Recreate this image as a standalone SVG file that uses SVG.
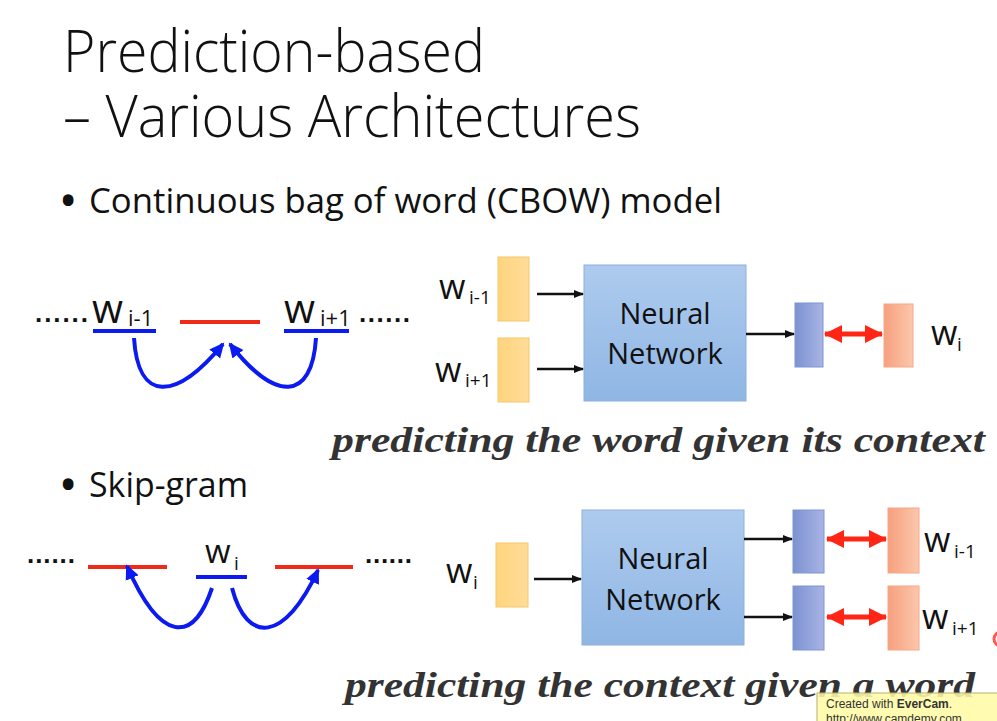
<svg xmlns="http://www.w3.org/2000/svg" width="997" height="721" viewBox="0 0 997 721">
<style>
.sans{font-family:"Open Sans","Noto Sans","Liberation Sans",sans-serif;fill:#111}
.title{font-size:58px;font-weight:300}
.bullet{font-size:34px}
.bdot{font-size:38px;font-weight:bold}
.w{font-size:34px}
.sub{font-size:19px}
.nn{font-size:29px;text-anchor:middle}
.ital{font-family:"Liberation Serif","DejaVu Serif",serif;font-weight:bold;font-style:italic;font-size:36px;fill:#333}
.dots{font-family:"Liberation Sans",sans-serif;font-weight:bold;font-size:26px;fill:#111}
.yel{fill:url(#gY);stroke:#F6C866;stroke-width:1}
.nnbox{fill:url(#gN);stroke:#8DB0DC;stroke-width:1}
.blu{fill:url(#gB);stroke:#7F95D2;stroke-width:1}
.org{fill:url(#gO);stroke:#F5A888;stroke-width:1}
.blk{stroke:#111;stroke-width:2.5;fill:none;marker-end:url(#mK)}
.red2{stroke:#FF2616;stroke-width:5;fill:none;marker-start:url(#mRs);marker-end:url(#mR)}
.curve{stroke:#0A1AF0;stroke-width:4;fill:none;marker-end:url(#mB)}
.bline{stroke:#0A1AF0;stroke-width:4}
.rline{stroke:#F02A18;stroke-width:4}
</style>
<defs>
<linearGradient id="gY" x1="0" y1="0" x2="1" y2="0"><stop offset="0" stop-color="#FFD47E"/><stop offset="1" stop-color="#FFDC98"/></linearGradient>
<linearGradient id="gN" x1="0" y1="0" x2="0" y2="1"><stop offset="0" stop-color="#AECBEE"/><stop offset="1" stop-color="#8FB6E4"/></linearGradient>
<linearGradient id="gB" x1="0" y1="0" x2="1" y2="0"><stop offset="0" stop-color="#7C92D2"/><stop offset="1" stop-color="#A8B4E4"/></linearGradient>
<linearGradient id="gO" x1="0" y1="0" x2="1" y2="0"><stop offset="0" stop-color="#F6A07E"/><stop offset="1" stop-color="#FCC7AC"/></linearGradient>
<marker id="mK" markerUnits="userSpaceOnUse" markerWidth="10" markerHeight="10" refX="9" refY="5" orient="auto"><path d="M0,1 L10,5 L0,9 Z" fill="#111"/></marker>
<marker id="mR" markerUnits="userSpaceOnUse" markerWidth="18" markerHeight="18" refX="17" refY="9" orient="auto"><path d="M0,0 L18,9 L0,18 Z" fill="#FF2616"/></marker>
<marker id="mRs" markerUnits="userSpaceOnUse" markerWidth="18" markerHeight="18" refX="1" refY="9" orient="auto"><path d="M18,0 L0,9 L18,18 Z" fill="#FF2616"/></marker>
<marker id="mB" markerUnits="userSpaceOnUse" markerWidth="16" markerHeight="16" refX="13" refY="8" orient="auto"><path d="M0,1 L15,8 L0,15 Z" fill="#0A1AF0"/></marker>
</defs>
<rect width="997" height="721" fill="#fff"/>

<g id="title">
<text class="sans title" x="63" y="72" textLength="422" lengthAdjust="spacingAndGlyphs">Prediction-based</text>
<text class="sans title" x="63" y="137" textLength="578" lengthAdjust="spacingAndGlyphs">– Various Architectures</text>
</g>
<g id="bullet-cbow">
<text class="sans bdot" x="61" y="214">•</text>
<text class="sans bullet" x="89" y="213" textLength="633" lengthAdjust="spacingAndGlyphs">Continuous bag of word (CBOW) model</text>
</g>
<g id="bullet-skip">
<text class="sans bdot" x="61" y="498">•</text>
<text class="sans bullet" x="89" y="497" textLength="159" lengthAdjust="spacingAndGlyphs">Skip-gram</text>
</g>

<!-- CBOW left -->
<g id="cbow-seq">
<text class="dots" x="35" y="322" textLength="53" lengthAdjust="spacing">......</text>
<text class="sans" x="92" y="323" font-size="40">w</text>
<text class="sans" x="128" y="326" font-size="22">i-1</text>
<line class="bline" x1="93" y1="331" x2="156" y2="331"/>
<line class="rline" x1="180" y1="322" x2="260" y2="322"/>
<text class="sans" x="284" y="323" font-size="40">w</text>
<text class="sans" x="320" y="326" font-size="22">i+1</text>
<line class="bline" x1="284" y1="331" x2="349" y2="331"/>
<text class="dots" x="359" y="322" textLength="51" lengthAdjust="spacing">......</text>
</g>

<!-- Skip-gram left -->
<g id="skip-seq">
<text class="dots" x="27" y="563" textLength="48" lengthAdjust="spacing">......</text>
<line class="rline" x1="88" y1="567" x2="167" y2="567"/>
<text class="sans" x="205" y="563" font-size="33">w</text>
<text class="sans" x="234" y="570" font-size="19">i</text>
<line class="bline" x1="196" y1="577" x2="247" y2="577"/>
<line class="rline" x1="275" y1="567" x2="353" y2="567"/>
<text class="dots" x="365" y="563" textLength="47" lengthAdjust="spacing">......</text>
</g>

<!-- CBOW right -->
<g id="cbow-in1"><rect class="yel" x="498" y="257" width="31" height="64"/>
<text class="sans w" x="439" y="299">w</text><text class="sans sub" x="469" y="304">i-1</text></g>
<g id="cbow-in2"><rect class="yel" x="498" y="338" width="31" height="64"/>
<text class="sans w" x="435" y="382">w</text><text class="sans sub" x="465" y="387">i+1</text></g>
<g id="cbow-nn"><rect class="nnbox" x="584" y="265" width="162" height="136"/>
<text class="sans nn" x="665" y="324">Neural</text><text class="sans nn" x="665" y="364">Network</text></g>
<g id="cbow-out"><rect class="blu" x="795" y="303" width="28" height="64"/></g>
<g id="cbow-target"><rect class="org" x="884" y="304" width="29" height="63"/>
<text class="sans w" x="931" y="345">w</text><text class="sans sub" x="957" y="351">i</text></g>

<!-- Skip-gram right -->
<g id="skip-in"><rect class="yel" x="496" y="543" width="32" height="64"/>
<text class="sans w" x="446" y="583">w</text><text class="sans sub" x="473" y="589">i</text></g>
<g id="skip-nn"><rect class="nnbox" x="582" y="510" width="162" height="135"/>
<text class="sans nn" x="663" y="569">Neural</text><text class="sans nn" x="663" y="610">Network</text></g>
<g id="skip-out1"><rect class="blu" x="793" y="510" width="31" height="63"/></g>
<g id="skip-out2"><rect class="blu" x="793" y="586" width="31" height="64"/></g>
<g id="skip-t1"><rect class="org" x="888" y="508" width="31" height="65"/>
<text class="sans w" x="924" y="552">w</text><text class="sans sub" x="954" y="558">i-1</text></g>
<g id="skip-t2"><rect class="org" x="888" y="586" width="31" height="64"/>
<text class="sans w" x="922" y="629">w</text><text class="sans sub" x="952" y="635">i+1</text></g>

<g id="connectors">
<path class="curve" d="M134,338 C138,402 175,402 223,344"/>
<path class="curve" d="M316,338 C312,402 275,402 230,344"/>
<path class="curve" d="M212,588 C193,645 160,642 127,566"/>
<path class="curve" d="M232,588 C247,645 285,642 318,570"/>
<line class="blk" x1="537" y1="294" x2="583" y2="294"/>
<line class="blk" x1="537" y1="369" x2="583" y2="369"/>
<line class="blk" x1="746" y1="334" x2="794" y2="334"/>
<line class="red2" x1="825" y1="334" x2="882" y2="334"/>
<line class="blk" x1="534" y1="579" x2="581" y2="579"/>
<line class="blk" x1="744" y1="539" x2="792" y2="539"/>
<line class="blk" x1="744" y1="617" x2="792" y2="617"/>
<line class="red2" x1="827" y1="539" x2="886" y2="539"/>
<line class="red2" x1="827" y1="617" x2="886" y2="617"/>
</g>

<g id="captions">
<text class="ital" x="332" y="452" textLength="653" lengthAdjust="spacingAndGlyphs">predicting the word given its context</text>
<text class="ital" x="345" y="697" textLength="630" lengthAdjust="spacingAndGlyphs">predicting the context given a word</text>
</g>

<circle cx="1001" cy="639" r="7" fill="none" stroke="#FF3020" stroke-width="3" opacity="0.8"/>

<g id="watermark">
<rect x="817" y="693" width="185" height="40" fill="#FFFBA6" fill-opacity="0.88" stroke="#B9AE70" stroke-width="1"/>
<text x="826" y="708" font-family="'Liberation Sans',sans-serif" font-size="12" fill="#333">Created with <tspan font-weight="bold">EverCam</tspan>.</text>
<text x="826" y="723" font-family="'Liberation Sans',sans-serif" font-size="12" fill="#333">http://www.camdemy.com</text>
</g>
</svg>
